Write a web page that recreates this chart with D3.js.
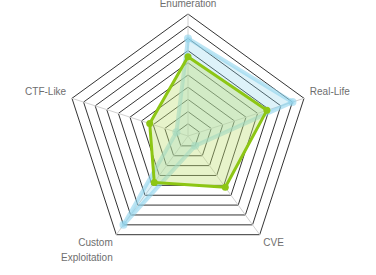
<!DOCTYPE html>
<html>
<head>
<meta charset="utf-8">
<script src="https://cdn.jsdelivr.net/npm/d3@7"></script>
<style>
  html, body { margin: 0; padding: 0; background: #fff; }
  svg { display: block; }
  .label { font-family: "Liberation Sans", Arial, sans-serif; font-size: 10px; fill: #6e6e6e; }
</style>
</head>
<body>
<div id="chart"></div>
<script>
var width = 376;
var height = 275;

// eixos do radar
var axes = ["Enumeration", "Real-Life", "CVE", "Custom Exploitation", "CTF-Like"];

// valores das duas séries (0..1)
var seriesBlue = [0.8, 0.9, 0.1, 0.9, 0.1];
var seriesGreen = [0.65, 0.68, 0.52, 0.47, 0.33];

var levels = d3.range(1, 11);

var cx = 188, cy = 136, radius = 122;

var svg = d3.select("#chart").append("svg")
	.attr("width", width)
	.attr("height", height);

var g = svg.append("g").attr("transform", `translate(${cx},${cy})`);

var rScale = d3.scaleLinear().domain([0, 1]).range([0, radius]);
var angle = d3.scaleLinear().domain([0, axes.length]).range([-Math.PI / 2, 3 * Math.PI / 2]);

function pt(i, v) {
	let a = angle(i);
	return [rScale(v) * Math.cos(a), rScale(v) * Math.sin(a)];
}

// níveis (pentágonos)
g.selectAll(".level")
	.data(levels)
	.enter().append("polygon")
	.attr("class", "level")
	.attr("points", d => axes.map((a, i) => pt(i, d / 10).join(",")).join(" "))
	.style("fill", "none")
	.style("stroke", "#333")
	.style("stroke-width", 1);

// linhas dos eixos
g.selectAll(".axis")
	.data(axes)
	.enter().append("line")
	.attr("class", "axis")
	.attr("x1", 0).attr("y1", 0)
	.attr("x2", (d, i) => pt(i, 1)[0])
	.attr("y2", (d, i) => pt(i, 1)[1])
	.style("stroke", "#d0d0d0")
	.style("stroke-width", 1);

var series = [
	{ values: seriesBlue, stroke: "#8fd3ec", strokeOpacity: 0.6, fill: "#8fd3ec", fillOpacity: 0.3, width: 4, r: 4 },
	{ values: seriesGreen, stroke: "#8dc614", strokeOpacity: 1, fill: "#c2e07a", fillOpacity: 0.4, width: 3, r: 3.5 }
];

series.forEach(s => {
	g.append("polygon")
		.attr("points", s.values.map((v, i) => pt(i, v).join(",")).join(" "))
		.style("fill", s.fill)
		.style("fill-opacity", s.fillOpacity)
		.style("stroke", s.stroke)
		.style("stroke-opacity", s.strokeOpacity)
		.style("stroke-width", s.width)
		.style("stroke-linejoin", "round");

	g.selectAll(null)
		.data(s.values)
		.enter().append("circle")
		.attr("cx", (d, i) => pt(i, d)[0])
		.attr("cy", (d, i) => pt(i, d)[1])
		.attr("r", s.r)
		.style("fill", s.stroke)
		.style("fill-opacity", s.strokeOpacity);
});

// rótulos dos eixos
var label = g.selectAll(".label")
	.data(axes)
	.enter().append("text")
	.attr("class", "label")
	.attr("text-anchor", (d, i) => {
		let c = Math.cos(angle(i));
		return Math.abs(c) < 0.01 ? "middle" : (c > 0 ? "start" : "end");
	})
	.attr("x", (d, i) => pt(i, 1.05)[0])
	.attr("y", (d, i) => {
		let s = Math.sin(angle(i));
		let y = pt(i, 1.05)[1];
		return s < -0.9 ? y - 1 : (s < 0 ? y - 1.5 : y + 6.5);
	});

label.each(function (d) {
	let t = d3.select(this);
	let words = d.split(" ");
	let x = t.attr("x");
	words.forEach((w, k) => {
		t.append("tspan").attr("x", x).attr("dy", k === 0 ? 0 : 15).text(w);
	});
});
</script>
</body>
</html>
